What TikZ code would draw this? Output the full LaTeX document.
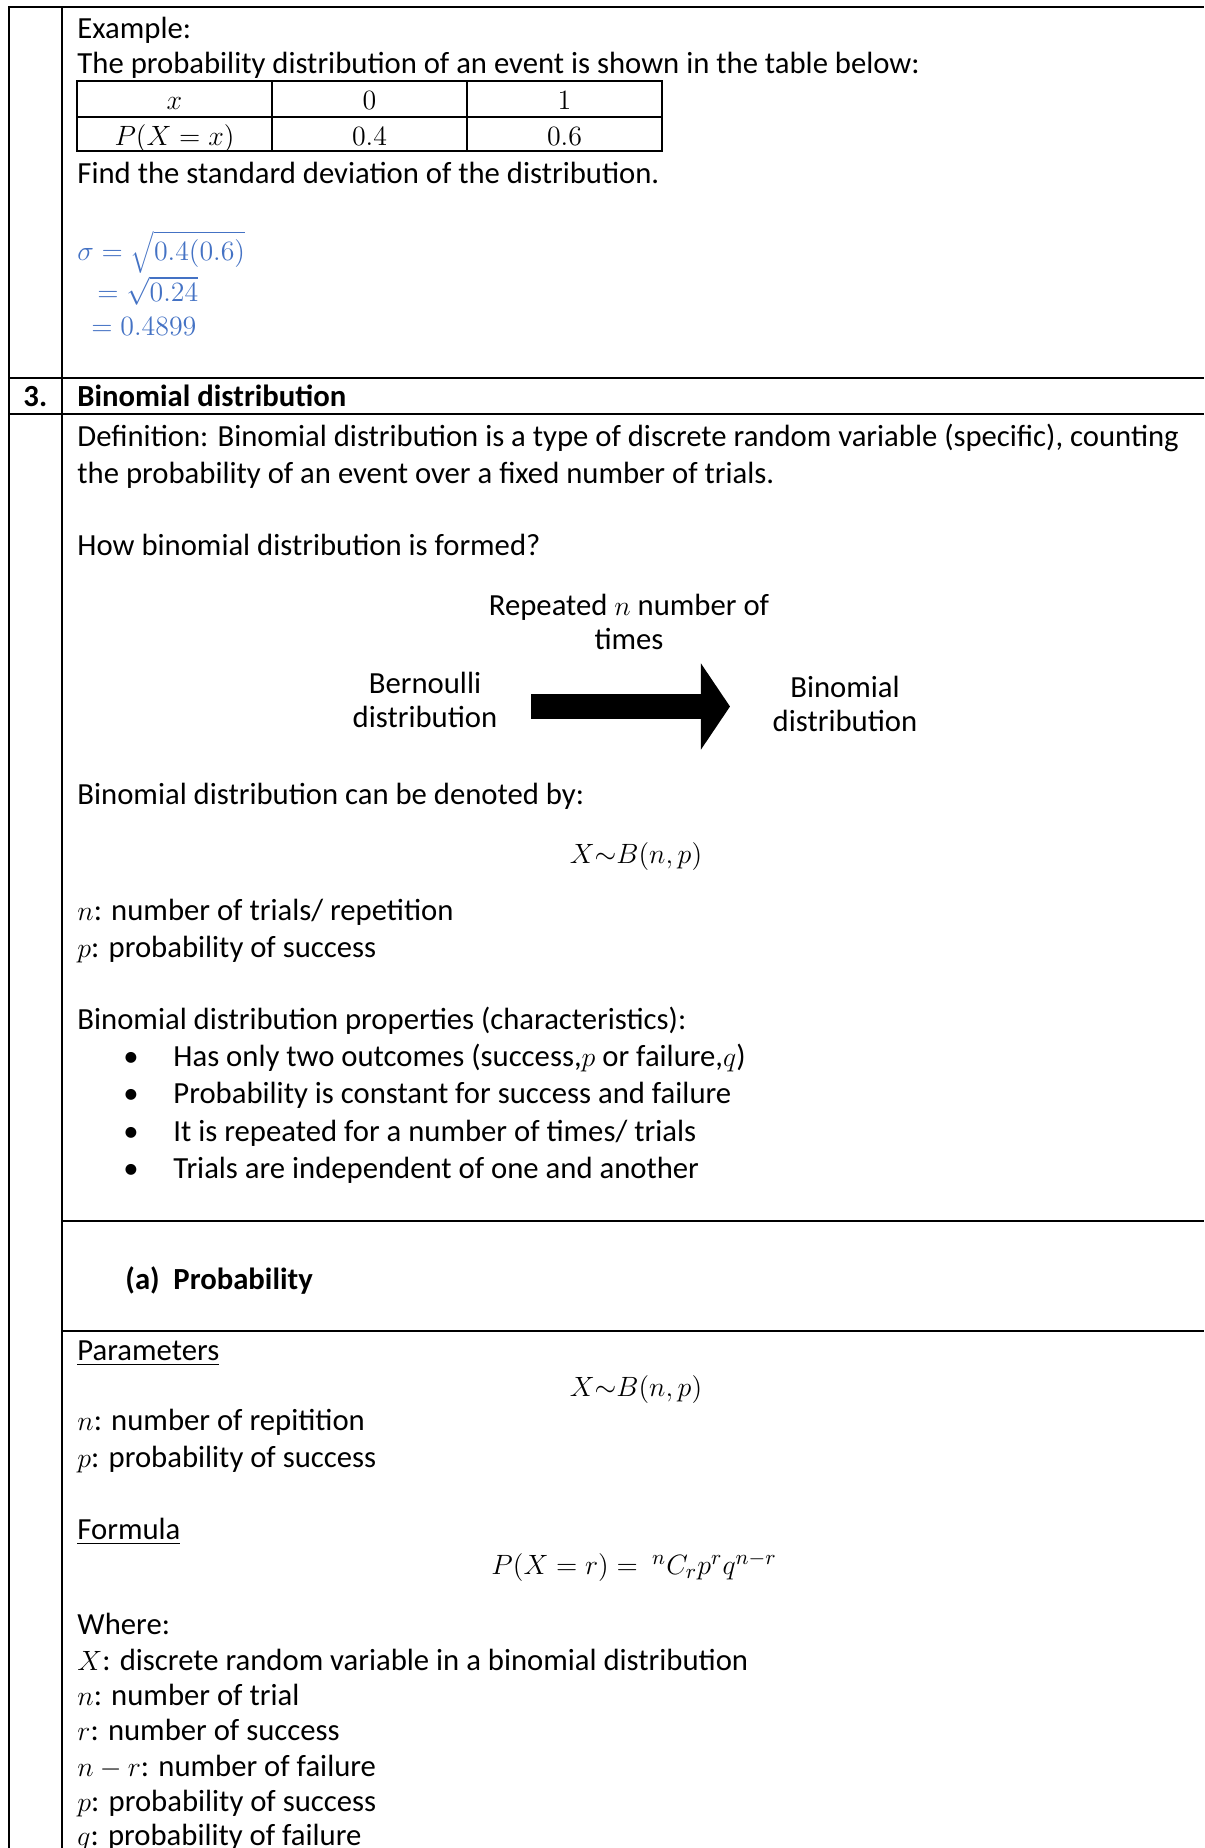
\documentclass[tikz,border=0pt]{standalone}
\usepackage{fontspec}
\setmainfont{Carlito}
\usetikzlibrary{arrows.meta}
\definecolor{wordblue}{RGB}{68,114,196}
\newcommand{\mth}[1]{{\fontsize{12.6}{15}\selectfont$#1$}}
\tikzset{
  txt/.style={anchor=base west, inner sep=0pt, yshift=-1.1pt, font=\fontsize{13.2}{16}\selectfont},
  ctr/.style={anchor=base, inner sep=0pt, yshift=-1.1pt, font=\fontsize{13.2}{16}\selectfont},
  bld/.style={txt, font=\fontsize{13.2}{16}\selectfont\bfseries},
  ans/.style={txt, text=wordblue},
  rule/.style={line width=0.86pt},
  tbl/.style={line width=0.7pt},
  bigarrow/.style={line width=10.75pt, -{Triangle[length=12.5pt, width=36.5pt]}},
}
\begin{document}
\begin{tikzpicture}[x=0.43pt,y=-0.43pt]
\useasboundingbox (0,0) rectangle (1204,1848);
% table frame
\draw[rule] (9,1848) -- (9,7) -- (1204,7);
\draw[rule] (62,7) -- (62,1848);
\draw[rule] (9,378) -- (1204,378);
\draw[rule] (9,414) -- (1204,414);
\draw[rule] (62,1221) -- (1204,1221);
\draw[rule] (62,1331) -- (1204,1331);
% example
\node[txt] (ex) at (77,36) {Example:};
\node[txt] (intro) at (77,71) {The probability distribution of an event is shown in the table below:};
\draw[tbl] (77,81) rectangle (662,151);
\draw[tbl] (77,117) -- (662,117);
\draw[tbl] (272,81) -- (272,151);
\draw[tbl] (467,81) -- (467,151);
\node[ctr] (c11) at (174.5,107) {\mth{x}};
\node[ctr] (c12) at (369.5,107) {\mth{0}};
\node[ctr] (c13) at (564.5,107) {\mth{1}};
\node[ctr] (c21) at (174.5,143) {\mth{P(X=x)}};
\node[ctr] (c22) at (369.5,143) {\mth{0.4}};
\node[ctr] (c23) at (564.5,143) {\mth{0.6}};
\node[txt] (find) at (77,181) {Find the standard deviation of the distribution.};
\node[ans] (s1) at (77,258) {\mth{\sigma=\sqrt{0.4(0.6)}}};
\node[ans] (s2) at (97,299) {\mth{=\sqrt{0.24}}};
\node[ans] (s3) at (91,333) {\mth{=0.4899}};
% section 3
\node[bld] (num) at (23,404) {3.};
\node[bld] (head) at (77,404) {Binomial distribution};
\node[txt] (def1) at (77,444) {Definition: Binomial distribution is a type of discrete random variable (specific), counting};
\node[txt] (def2) at (77,481) {the probability of an event over a fixed number of trials.};
\node[txt] (how) at (77,553) {How binomial distribution is formed?};
\node[ctr] (rep1) at (629,613) {Repeated \mth{n} number of};
\node[ctr] (rep2) at (629,647) {times};
\node[ctr] (bern1) at (425,691) {Bernoulli};
\node[ctr] (bern2) at (425,725) {distribution};
\node[ctr] (bin1) at (845,695) {Binomial};
\node[ctr] (bin2) at (845,729) {distribution};
\coordinate (arrS) at (531,706.5);
\coordinate (arrE) at (730,706.5);
\draw[bigarrow] (arrS) -- (arrE);
\node[txt] (den) at (77,802) {Binomial distribution can be denoted by:};
\node[ctr] (xb1) at (636,861) {\mth{X\mathord{\sim}B(n,p)}};
\node[txt] (n1) at (77,918) {\mth{n}: number of trials/ repetition};
\node[txt] (p1) at (77,955) {\mth{p}: probability of success};
\node[txt] (prop) at (77,1027) {Binomial distribution properties (characteristics):};
\node[ctr] (b1) at (131,1064) {\textbullet};
\node[ctr] (b2) at (131,1101) {\textbullet};
\node[ctr] (b3) at (131,1139) {\textbullet};
\node[ctr] (b4) at (131,1176) {\textbullet};
\node[txt] (t1) at (173,1064) {Has only two outcomes (success,\mth{p} or failure,\mth{q})};
\node[txt] (t2) at (173,1101) {Probability is constant for success and failure};
\node[txt] (t3) at (173,1139) {It is repeated for a number of times/ trials};
\node[txt] (t4) at (173,1176) {Trials are independent of one and another};
\node[bld] (sa) at (125,1287) {(a)};
\node[bld] (sb) at (173,1287) {Probability};
\node[txt] (par) at (77,1358) {\underline{Parameters}};
\node[ctr] (xb2) at (636,1394) {\mth{X\mathord{\sim}B(n,p)}};
\node[txt] (n2) at (77,1428) {\mth{n}: number of repitition};
\node[txt] (p2) at (77,1465) {\mth{p}: probability of success};
\node[txt] (form) at (77,1537) {\underline{Formula}};
\node[txt] (pf) at (491,1572) {\mth{P(X=r)=\ {}^{n}C_{r}p^{r}q^{n-r}}};
\node[txt] (wh) at (77,1632) {Where:};
\node[txt] (w1) at (77,1668) {\mth{X}: discrete random variable in a binomial distribution};
\node[txt] (w2) at (77,1703) {\mth{n}: number of trial};
\node[txt] (w3) at (77,1738) {\mth{r}: number of success};
\node[txt] (w4) at (77,1774) {\mth{n-r}: number of failure};
\node[txt] (w5) at (77,1809) {\mth{p}: probability of success};
\node[txt] (w6) at (77,1843) {\mth{q}: probability of failure};
\end{tikzpicture}
\end{document}
